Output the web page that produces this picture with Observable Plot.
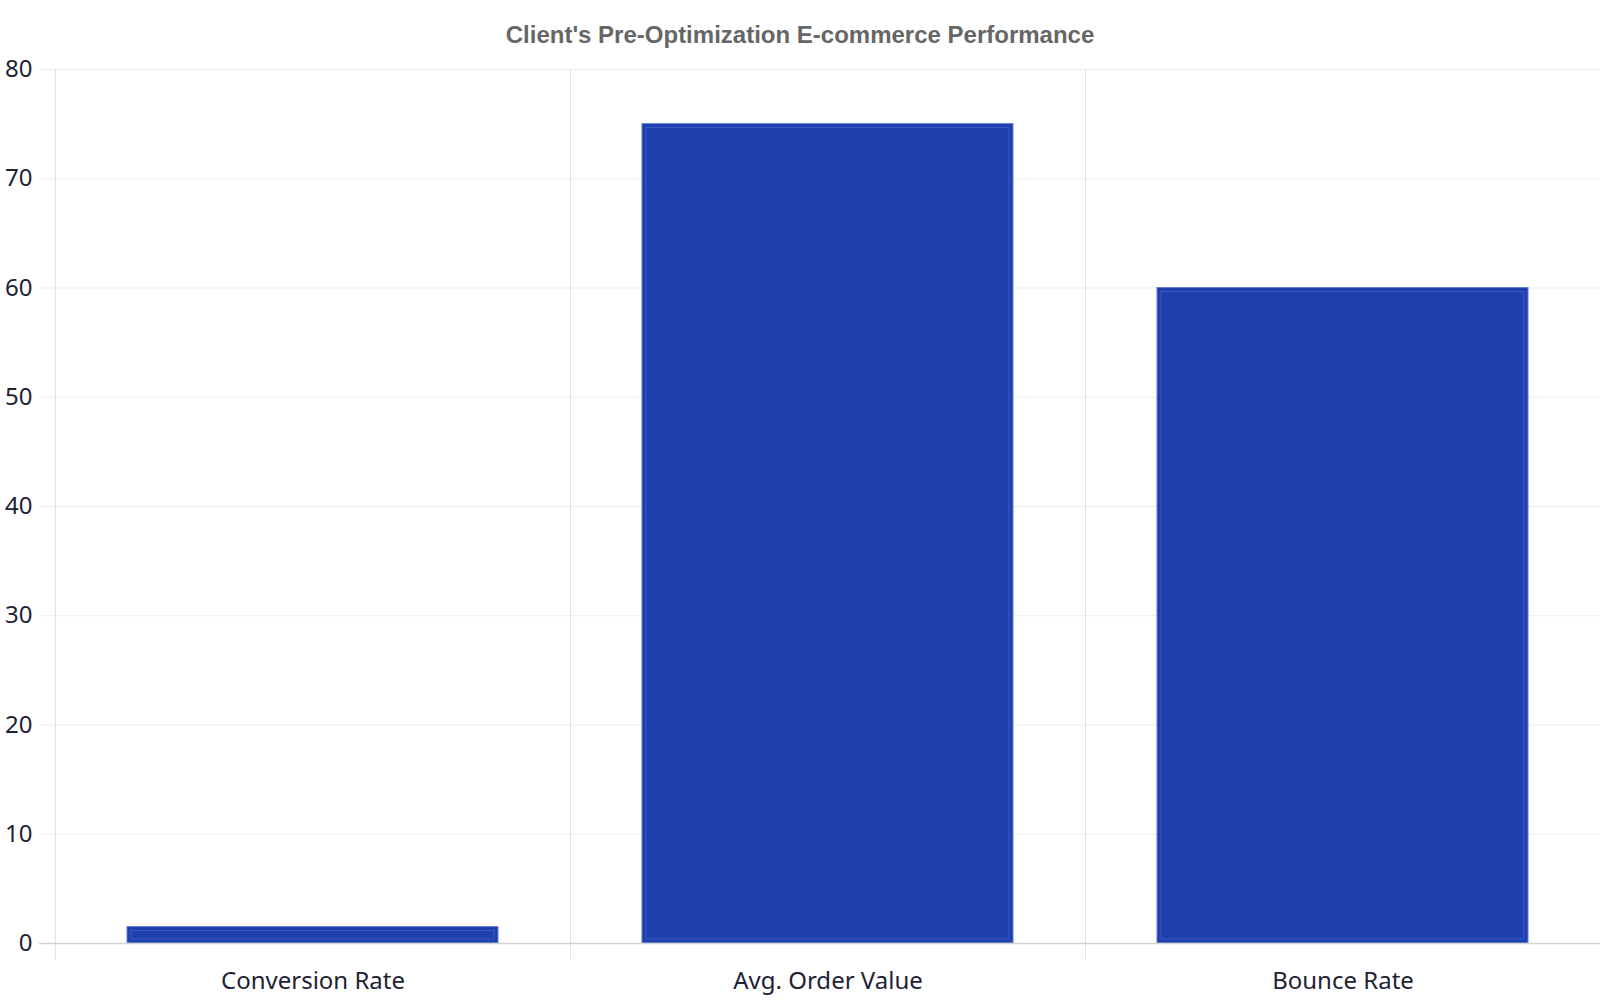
<!DOCTYPE html>
<html>
<head>
<meta charset="utf-8">
<script src="https://cdn.jsdelivr.net/npm/d3@7"></script>
<script src="https://cdn.jsdelivr.net/npm/@observablehq/plot@0.6"></script>
<style>
  html, body { margin: 0; padding: 0; background: #fff; }
  #title { height: 30px; width: 1600px; text-align: center; font-family: "Liberation Sans", Arial, sans-serif; font-weight: bold; font-size: 24px; color: #666; line-height: 70px; overflow: visible; white-space: nowrap; position: relative; z-index: 1; }
  #chart svg { display: block; }
</style>
</head>
<body>
<div id="title">Client's Pre-Optimization E-commerce Performance</div>
<div id="chart"></div>
<script>
const categories = ["Conversion Rate", "Avg. Order Value", "Bounce Rate"];
const values = [1.5, 75, 60];
const yTicks = [0, 10, 20, 30, 40, 50, 60, 70, 80];

const data = categories.map((c, i) => ({category: c, value: values[i]}));

const W = 1600, H = 970, ML = 55, MR = 0, MT = 39, MB = 57;
const step = (W - ML - MR) / categories.length;

const chart = Plot.plot({
  width: W,
  height: H,
  marginLeft: ML,
  marginRight: MR,
  marginTop: MT,
  marginBottom: MB,
  style: {fontFamily: "'Noto Sans', sans-serif", fontSize: "24px", color: "#1e2235", background: "transparent"},
  x: {type: "band", domain: categories, paddingInner: 0.28, paddingOuter: 0.14, label: null},
  y: {domain: [0, 80], label: null},
  marks: [
    Plot.ruleY(yTicks.filter(d => d !== 0), {y: d => d, stroke: "#ebebeb", strokeWidth: 1, insetLeft: -16}),
    Plot.ruleX(categories, {x: d => d, dx: -step / 2, stroke: "#e3e3e3", strokeWidth: 1, insetBottom: -16}),
    Plot.barY(data, {x: "category", y: "value", fill: "#1e40af", stroke: "#5d7bd6", strokeWidth: 1}),
    Plot.barY(data, {x: "category", y: "value", fill: "none", stroke: "#4f6dd0", strokeOpacity: 0.6, strokeWidth: 1, inset: 4}),
    Plot.ruleY([0], {stroke: "#d2d2d2", strokeWidth: 1.5, insetLeft: -16}),
    Plot.axisY({ticks: yTicks, tickSize: 0, tickPadding: 23, fontSize: 24, fill: "#1e2235", label: null}),
    Plot.axisX({tickSize: 0, tickPadding: 28, fontSize: 24, fill: "#1e2235", label: null})
  ]
});
document.getElementById("chart").appendChild(chart);
</script>
</body>
</html>
